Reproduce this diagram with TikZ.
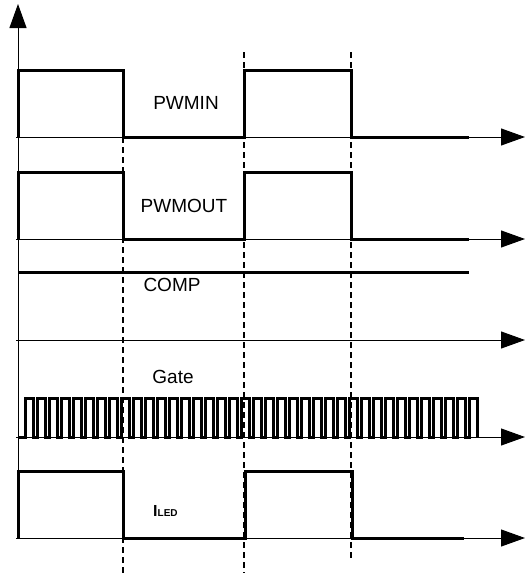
\documentclass[tikz,border=0pt]{standalone}
\usepackage{fontspec}
\setmainfont{Liberation Sans}
\usetikzlibrary{arrows.meta}
\tikzset{
  axisline/.style={line width=1pt, -{Triangle[length=24pt,width=17pt]}},
  wave/.style={line width=3pt, line join=miter},
  edge/.style={line width=1.4pt, dash pattern=on 6pt off 4pt},
  siglabel/.style={font=\fontsize{19}{21}\selectfont, inner sep=0pt}
}

\begin{document}
\begin{tikzpicture}[x=1pt,y=-1pt]
\useasboundingbox (0,0) rectangle (525,573);
% axes
\draw[axisline] (18,538) -- (18,4);
\draw[axisline] (16,137) -- (525,137);
\draw[axisline] (16,239) -- (525,239);
\draw[axisline] (16,340) -- (525,340);
\draw[axisline] (16,437) -- (525,437);
\draw[axisline] (16,538) -- (525,538);
% edges
\draw[edge] (123,137) -- (123,573);
\draw[edge] (244,52) -- (244,573);
\draw[edge] (351,52) -- (351,559);
% PWMIN
\draw[wave] (18,137) -- (18,70) -- (123,70) -- (123,137) -- (244,137) -- (244,70) -- (351,70) -- (351,137) -- (469,137);
\node[siglabel] (pwmin) at (186,103) {PWMIN};
% PWMOUT
\draw[wave] (18,239) -- (18,172) -- (123,172) -- (123,239) -- (244,239) -- (244,172) -- (351,172) -- (351,239) -- (469,239);
\node[siglabel] (pwmout) at (184,206) {PWMOUT};
% COMP
\draw[wave] (18,272) -- (469,272);
\node[siglabel] (comp) at (172,285) {COMP};
% Gate
\draw[wave] (18,437) -- (25,437)
  \foreach \k in {0,...,36} { -- ({25+12*\k},398) -- ({33+12*\k},398) -- ({33+12*\k},437) -- ({37+12*\k},437) }
  -- (469,398) -- (477,398) -- (477,437);
\node[siglabel] (gate) at (173,377) {Gate};
% ILED
\draw[wave] (18,538) -- (18,471) -- (123,471) -- (123,538) -- (245,538) -- (245,471) -- (352,471) -- (352,538) -- (464,538);
\node[inner sep=0pt, anchor=base west] (iled) at (153,516) {\bfseries\fontsize{16}{18}\selectfont I{\fontsize{10}{12}\selectfont LED}};
\end{tikzpicture}
\end{document}
